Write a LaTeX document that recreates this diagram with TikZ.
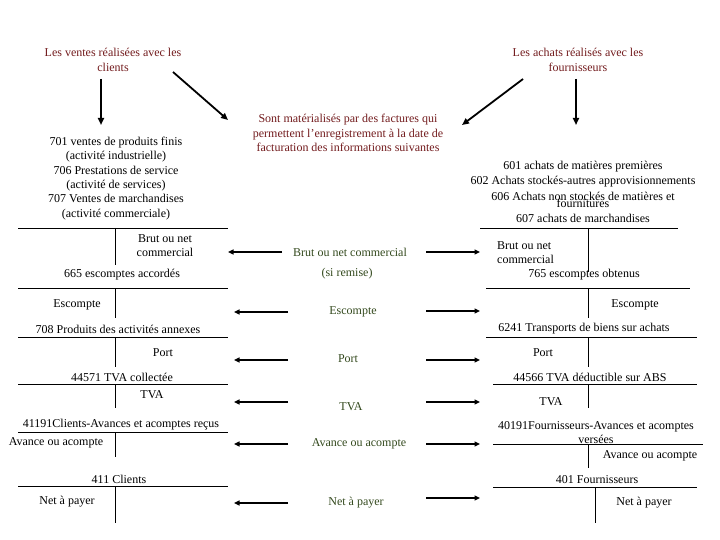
\documentclass[tikz,border=0pt]{standalone}
\usepackage{fontspec}
\setmainfont{Liberation Serif}
\usetikzlibrary{arrows.meta}
\definecolor{dred}{RGB}{115,28,30}
\definecolor{dgreen}{RGB}{52,74,30}
\begin{document}
\begin{tikzpicture}[x=1pt,y=-1pt,
  txt/.style={font=\fontsize{12}{14.3}\selectfont, inner sep=0pt, align=center},
  red/.style={txt, text=dred},
  grn/.style={txt, text=dgreen},
  big/.style={line width=1.8pt, -{Triangle[length=7pt,width=6pt]}},
  mid/.style={line width=1.6pt, -{Triangle[length=5.5pt,width=5pt]}},
  tline/.style={line width=0.9pt}]
\useasboundingbox[fill=white] (0,0) rectangle (720,540);

% titles
\node[red] (vent) at (113,60) {Les ventes réalisées avec les\\clients};
\node[red] (ach) at (578,60) {Les achats réalisés avec les\\fournisseurs};
\node[red] (fact) at (348,133) {Sont matérialisés par des factures qui\\permettent l’enregistrement à la date de\\facturation des informations suivantes};

% top arrows
\coordinate (a1s) at (101,79); \coordinate (a1e) at (101,125);
\coordinate (a2s) at (173,72); \coordinate (a2e) at (228,120);
\coordinate (a3s) at (576,79); \coordinate (a3e) at (576,125);
\coordinate (a4s) at (523,79); \coordinate (a4e) at (462,125);
\draw[big] (a1s) -- (a1e);
\draw[big] (a2s) -- (a2e);
\draw[big] (a3s) -- (a3e);
\draw[big] (a4s) -- (a4e);

% left block
\node[txt] (vlist) at (116,178.5) {701 ventes de produits finis\\(activité industrielle)\\706 Prestations de service\\(activité de services)\\707 Ventes de marchandises\\(activité commerciale)};

% right block
\node[txt] (r601) at (583,167) {601 achats de matières premières};
\node[txt] (r602) at (583,182) {602 Achats stockés-autres approvisionnements};
\node[txt] (r606) at (583,196) {606 Achats non stockés de matières et};
\node[txt] (r606b) at (583,203) {fournitures};
\node[txt] (r607) at (583,218) {607 achats de marchandises};

% left T accounts
\draw[tline] (18,228) -- (228,228); \draw[tline] (115,228) -- (115,265);
\node[txt] (lbrut) at (165,245.5) {Brut ou net\\commercial};
\node[txt] (l665) at (122,275) {665 escomptes accordés};
\draw[tline] (18,288) -- (228,288); \draw[tline] (115,288) -- (115,318);
\node[txt] (lesc) at (77,305) {Escompte};
\node[txt] (l708) at (118,329) {708 Produits des activités annexes};
\draw[tline] (18,337) -- (228,337); \draw[tline] (115,337) -- (115,367);
\node[txt] (lport) at (163,353) {Port};
\node[txt] (l445) at (122,377) {44571 TVA collectée};
\draw[tline] (18,384) -- (228,384); \draw[tline] (115,384) -- (115,408);
\node[txt] (ltva) at (152,395) {TVA};
\node[txt] (l411a) at (121,425) {41191Clients-Avances et acomptes reçus};
\draw[tline] (18,432) -- (228,432); \draw[tline] (115,432) -- (115,457);
\node[txt] (lav) at (56,443) {Avance ou acompte};
\node[txt] (l411) at (119,479) {411 Clients};
\draw[tline] (18,486) -- (228,486); \draw[tline] (115,486) -- (115,523);
\node[txt] (lnet) at (67,502) {Net à payer};

% right T accounts
\draw[tline] (480,228) -- (678,228); \draw[tline] (588,228) -- (588,272);
\node[txt, align=left, anchor=west] (rbrut) at (497,252.5) {Brut ou net\\commercial};
\node[txt] (r765) at (584,275) {765 escomptes obtenus};
\draw[tline] (486,288) -- (690,288); \draw[tline] (588,288) -- (588,318);
\node[txt] (resc) at (635,305) {Escompte};
\node[txt] (r6241) at (584,329) {6241 Transports de biens sur achats};
\draw[tline] (486,337) -- (697,337); \draw[tline] (588,337) -- (588,367);
\node[txt] (rport) at (543,353) {Port};
\node[txt] (r445) at (590,377) {44566 TVA déductible sur ABS};
\draw[tline] (493,384) -- (697,384); \draw[tline] (588,384) -- (588,408);
\node[txt] (rtva) at (551,402) {TVA};
\node[txt] (r401a) at (596,432.5) {40191Fournisseurs-Avances et acomptes\\versées};
\draw[tline] (493,444) -- (703,444); \draw[tline] (588,444) -- (588,468);
\node[txt] (rav) at (650,456) {Avance ou acompte};
\node[txt] (r401) at (597,480) {401 Fournisseurs};
\draw[tline] (493,487) -- (697,487); \draw[tline] (595,487) -- (595,523);
\node[txt] (rnet) at (644,503) {Net à payer};

% middle labels
\node[grn] (mbrut) at (350,252) {Brut ou net commercial};
\node[grn] (msi) at (347,274) {(si remise)};
\node[grn] (mesc) at (353,312) {Escompte};
\node[grn] (mport) at (348,359) {Port};
\node[grn] (mtva) at (351,407) {TVA};
\node[grn] (mav) at (359,444) {Avance ou acompte};
\node[grn] (mnet) at (356,503) {Net à payer};

% middle arrows
\foreach \n/\y/\xa in {1/252/228, 2/312/234, 3/360/234, 4/402/234, 5/444/234, 6/503/234} {
  \coordinate (ls\n) at (\xa+54,\y); \coordinate (le\n) at (\xa,\y);
  \draw[mid] (ls\n) -- (le\n);
}
\foreach \n/\y in {1/252, 2/311, 3/360, 4/402, 5/444, 6/498} {
  \coordinate (rs\n) at (426,\y); \coordinate (re\n) at (480,\y);
  \draw[mid] (rs\n) -- (re\n);
}
\end{tikzpicture}
\end{document}
